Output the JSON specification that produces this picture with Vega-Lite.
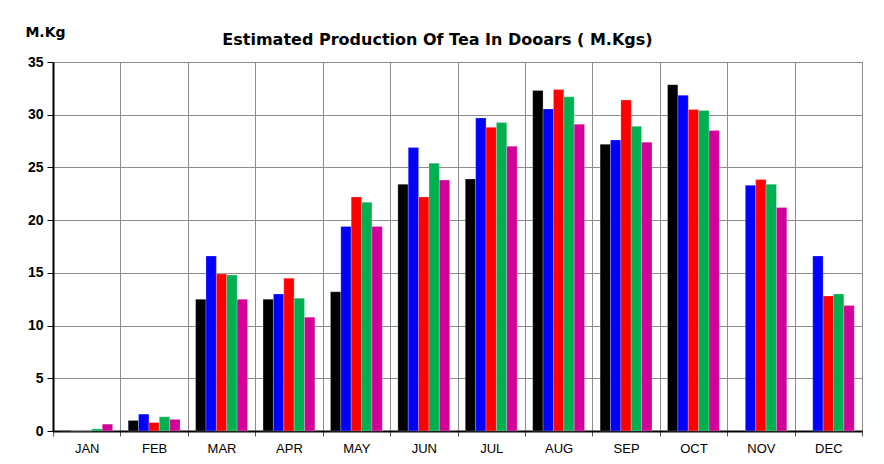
{
  "$schema": "https://vega.github.io/schema/vega-lite/v6.json",
  "autosize": "none",
  "width": 809,
  "height": 369,
  "padding": {"left": 53, "top": 62, "right": 22, "bottom": 33},
  "background": "white",
  "title": {
    "text": "Estimated Production Of Tea In Dooars ( M.Kgs)",
    "anchor": "middle",
    "frame": "group",
    "dx": -20,
    "offset": 0,
    "dy": 23,
    "font": "DejaVu Sans",
    "fontSize": 16,
    "fontWeight": "bold",
    "color": "#000000"
  },
  "data": {
    "values": [
      {"month": "JAN", "series": "Series 1", "value": 0.05},
      {"month": "JAN", "series": "Series 2", "value": 0},
      {"month": "JAN", "series": "Series 3", "value": 0},
      {"month": "JAN", "series": "Series 4", "value": 0.2},
      {"month": "JAN", "series": "Series 5", "value": 0.65},
      {"month": "FEB", "series": "Series 1", "value": 1.0},
      {"month": "FEB", "series": "Series 2", "value": 1.6},
      {"month": "FEB", "series": "Series 3", "value": 0.8},
      {"month": "FEB", "series": "Series 4", "value": 1.35},
      {"month": "FEB", "series": "Series 5", "value": 1.1},
      {"month": "MAR", "series": "Series 1", "value": 12.5},
      {"month": "MAR", "series": "Series 2", "value": 16.6},
      {"month": "MAR", "series": "Series 3", "value": 14.9},
      {"month": "MAR", "series": "Series 4", "value": 14.8},
      {"month": "MAR", "series": "Series 5", "value": 12.5},
      {"month": "APR", "series": "Series 1", "value": 12.5},
      {"month": "APR", "series": "Series 2", "value": 13.0},
      {"month": "APR", "series": "Series 3", "value": 14.5},
      {"month": "APR", "series": "Series 4", "value": 12.6},
      {"month": "APR", "series": "Series 5", "value": 10.8},
      {"month": "MAY", "series": "Series 1", "value": 13.2},
      {"month": "MAY", "series": "Series 2", "value": 19.4},
      {"month": "MAY", "series": "Series 3", "value": 22.2},
      {"month": "MAY", "series": "Series 4", "value": 21.7},
      {"month": "MAY", "series": "Series 5", "value": 19.4},
      {"month": "JUN", "series": "Series 1", "value": 23.4},
      {"month": "JUN", "series": "Series 2", "value": 26.9},
      {"month": "JUN", "series": "Series 3", "value": 22.2},
      {"month": "JUN", "series": "Series 4", "value": 25.4},
      {"month": "JUN", "series": "Series 5", "value": 23.8},
      {"month": "JUL", "series": "Series 1", "value": 23.9},
      {"month": "JUL", "series": "Series 2", "value": 29.7},
      {"month": "JUL", "series": "Series 3", "value": 28.8},
      {"month": "JUL", "series": "Series 4", "value": 29.25},
      {"month": "JUL", "series": "Series 5", "value": 27.0},
      {"month": "AUG", "series": "Series 1", "value": 32.3},
      {"month": "AUG", "series": "Series 2", "value": 30.55},
      {"month": "AUG", "series": "Series 3", "value": 32.4},
      {"month": "AUG", "series": "Series 4", "value": 31.7},
      {"month": "AUG", "series": "Series 5", "value": 29.1},
      {"month": "SEP", "series": "Series 1", "value": 27.2},
      {"month": "SEP", "series": "Series 2", "value": 27.6},
      {"month": "SEP", "series": "Series 3", "value": 31.4},
      {"month": "SEP", "series": "Series 4", "value": 28.9},
      {"month": "SEP", "series": "Series 5", "value": 27.4},
      {"month": "OCT", "series": "Series 1", "value": 32.85},
      {"month": "OCT", "series": "Series 2", "value": 31.85},
      {"month": "OCT", "series": "Series 3", "value": 30.5},
      {"month": "OCT", "series": "Series 4", "value": 30.4},
      {"month": "OCT", "series": "Series 5", "value": 28.5},
      {"month": "NOV", "series": "Series 2", "value": 23.3},
      {"month": "NOV", "series": "Series 3", "value": 23.85},
      {"month": "NOV", "series": "Series 4", "value": 23.4},
      {"month": "NOV", "series": "Series 5", "value": 21.2},
      {"month": "DEC", "series": "Series 2", "value": 16.6},
      {"month": "DEC", "series": "Series 3", "value": 12.8},
      {"month": "DEC", "series": "Series 4", "value": 13.0},
      {"month": "DEC", "series": "Series 5", "value": 11.9}
    ]
  },
  "mark": {"type": "bar", "stroke": "#ffffff", "strokeWidth": 0.4, "strokeOpacity": 0.6},
  "encoding": {
    "x": {
      "field": "month",
      "type": "nominal",
      "sort": ["JAN","FEB","MAR","APR","MAY","JUN","JUL","AUG","SEP","OCT","NOV","DEC"],
      "scale": {"paddingInner": 0, "paddingOuter": 0},
      "axis": {
        "title": null,
        "labelAngle": 0,
        "bandPosition": 0,
        "grid": true,
        "gridColor": "#8c8c8c",
        "gridWidth": 1,
        "ticks": true,
        "tickBand": "extent",
        "tickColor": "#555555",
        "tickSize": 5,
        "domainColor": "#000000",
        "domainWidth": 2,
        "labelFont": "Liberation Sans",
        "labelFontSize": 13,
        "labelColor": "#000000",
        "labelPadding": 6
      }
    },
    "xOffset": {
      "field": "series",
      "type": "nominal",
      "scale": {"paddingInner": 0, "paddingOuter": 0.75}
    },
    "y": {
      "field": "value",
      "type": "quantitative",
      "scale": {"domain": [0, 35], "nice": false},
      "axis": {
        "values": [0,5,10,15,20,25,30,35],
        "title": "M.Kg",
        "titleAngle": 0,
        "titleX": -8,
        "titleY": -30,
        "titleAlign": "center",
        "titleBaseline": "middle",
        "titleFont": "DejaVu Sans",
        "titleFontSize": 14,
        "titleFontWeight": "bold",
        "titleColor": "#000000",
        "grid": true,
        "gridColor": "#8c8c8c",
        "gridWidth": 1,
        "tickColor": "#000000",
        "tickSize": 6,
        "domainColor": "#000000",
        "domainWidth": 2,
        "labelFont": "Liberation Sans",
        "labelFontSize": 14,
        "labelFontWeight": "bold",
        "labelColor": "#000000",
        "labelPadding": 4
      }
    },
    "color": {
      "field": "series",
      "type": "nominal",
      "scale": {
        "domain": ["Series 1","Series 2","Series 3","Series 4","Series 5"],
        "range": ["#000000","#0000FF","#FF0000","#00B050","#D10096"]
      },
      "legend": null
    }
  },
  "config": {
    "view": {"stroke": "#555555", "strokeWidth": 1}
  }
}
